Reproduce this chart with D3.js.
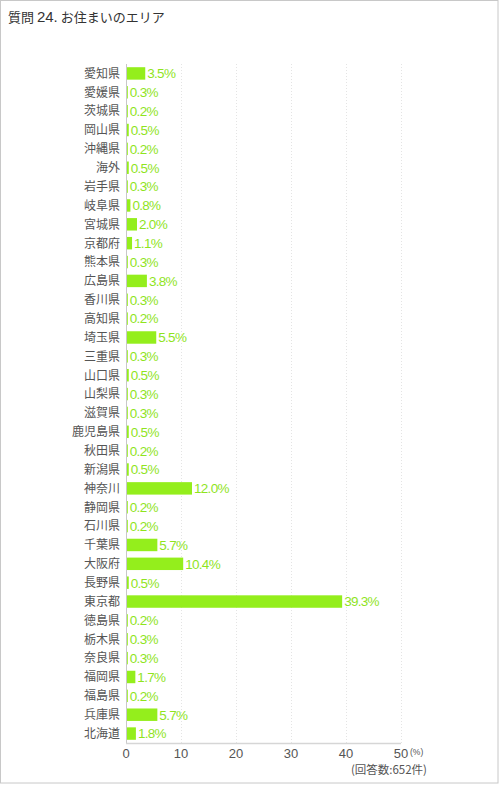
<!DOCTYPE html>
<html><head><meta charset="utf-8">
<script src="https://cdn.jsdelivr.net/npm/d3@7"></script>
<style>
body{margin:0;background:#fff;}
svg{display:block;font-family:"Liberation Sans","Noto Sans CJK JP",sans-serif;}
</style></head>
<body>
<svg id="c" width="500" height="785"></svg>
<script>
const categories = ["愛知県","愛媛県","茨城県","岡山県","沖縄県","海外","岩手県","岐阜県","宮城県","京都府","熊本県","広島県","香川県","高知県","埼玉県","三重県","山口県","山梨県","滋賀県","鹿児島県","秋田県","新潟県","神奈川","静岡県","石川県","千葉県","大阪府","長野県","東京都","徳島県","栃木県","奈良県","福岡県","福島県","兵庫県","北海道"];
const values = [3.5,0.3,0.2,0.5,0.2,0.5,0.3,0.8,2.0,1.1,0.3,3.8,0.3,0.2,5.5,0.3,0.5,0.3,0.3,0.5,0.2,0.5,12.0,0.2,0.2,5.7,10.4,0.5,39.3,0.2,0.3,0.3,1.7,0.2,5.7,1.8];
const xTicks = [0,10,20,30,40,50];
const title = "質問 24. お住まいのエリア";
const unitLabel = "(%)";
const countLabel = "(回答数:652件)";

const svg = d3.select("#c");
svg.append("rect").attr("x",0.5).attr("y",0.5).attr("width",497.5).attr("height",782.5)
  .attr("fill","#fff").attr("stroke","#c8c8c8").attr("stroke-width",1);

const t = svg.append("text").attr("x",8).attr("y",22).attr("fill","#333")
  .attr("font-family","'Noto Sans CJK JP',sans-serif").attr("font-size",13);
t.append("tspan").text("質問 ");
t.append("tspan").attr("font-family","'Liberation Sans',sans-serif").attr("font-size",15).text("24.");
t.append("tspan").text(" お住まいのエリア");

const x = d3.scaleLinear().domain([0,50]).range([126,401]);
const y = d3.scaleBand().domain(categories).range([64,743]).paddingInner(0.34).paddingOuter(0.17);

// gridlines
svg.append("g").selectAll("line").data(xTicks.filter(d=>d>0)).join("line")
  .attr("x1",d=>x(d)+0.5).attr("x2",d=>x(d)+0.5).attr("y1",64).attr("y2",743)
  .attr("stroke","#e4e4e4").attr("stroke-dasharray","1,2");

// bars
svg.append("g").selectAll("rect").data(values).join("rect")
  .attr("x",x(0)).attr("y",(d,i)=>y(categories[i]))
  .attr("width",d=>Math.max(x(d)-x(0),1.8)).attr("height",y.bandwidth())
  .attr("fill","#94ee1c");

// value labels
svg.append("g").selectAll("text").data(values).join("text")
  .attr("x",d=>Math.max(x(d),x(0)+1.8)+2).attr("y",(d,i)=>y(categories[i])+y.bandwidth()/2)
  .attr("dy","0.36em").attr("font-size",13.5).attr("fill","#8fe41e").attr("letter-spacing","-0.7")
  .text(d=>d.toFixed(1)+"%");

// category labels
svg.append("g").selectAll("text").data(categories).join("text")
  .attr("x",120).attr("y",d=>y(d)+y.bandwidth()/2).attr("dy","0.36em")
  .attr("text-anchor","end").attr("font-size",12).attr("fill","#555")
  .attr("font-family","'Noto Sans CJK JP',sans-serif").text(d=>d);

// axes lines
svg.append("line").attr("x1",126.5).attr("x2",126.5).attr("y1",64).attr("y2",744).attr("stroke","#c8c8c8");
svg.append("line").attr("x1",126).attr("x2",401).attr("y1",743.5).attr("y2",743.5).attr("stroke","#d6d6d6").attr("stroke-width",1.5);

// x tick labels
svg.append("g").selectAll("text").data(xTicks).join("text")
  .attr("x",d=>x(d)).attr("y",758).attr("text-anchor","middle").attr("font-size",13).attr("fill","#555")
  .text(d=>d);

svg.append("text").attr("x",410).attr("y",755).attr("font-size",8.5).attr("fill","#555").text(unitLabel);
svg.append("text").attr("x",427).attr("y",774).attr("text-anchor","end").attr("font-size",11.5).attr("fill","#555")
  .attr("font-family","'Noto Sans CJK JP',sans-serif").text(countLabel);
</script>
</body></html>
